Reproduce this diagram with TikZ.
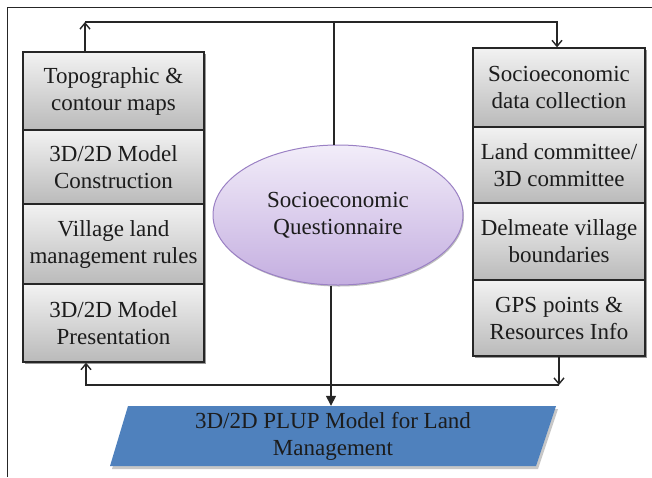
\documentclass[tikz,border=0pt]{standalone}
\usepackage{fontspec}
\setmainfont{Liberation Serif}
\newfontfamily\tnr{Liberation Serif}
\usetikzlibrary{arrows.meta,shadows,shapes.geometric}
\definecolor{boxtop}{HTML}{F2F2F2}
\definecolor{boxbot}{HTML}{BABABA}
\definecolor{ellTop}{HTML}{F2EDF9}
\definecolor{ellBot}{HTML}{C4AEE0}
\definecolor{ellLine}{HTML}{9A80C4}
\definecolor{plupBlue}{HTML}{4F81BD}
\definecolor{txt}{HTML}{1C1C1C}
\begin{document}
\begin{tikzpicture}[x=1pt,y=-1pt,
  every node/.style={font=\tnr\fontsize{23}{27}\selectfont, text=txt, align=center, inner sep=0pt},
  stepbox/.style={draw=black!85, line width=1.3pt, top color=boxtop, bottom color=boxbot,
    drop shadow={shadow xshift=1.5pt, shadow yshift=-1.5pt, opacity=0.4, fill=black}},
  leftbox/.style={stepbox, minimum width=181pt},
  rightbox/.style={stepbox, minimum width=172pt},
  loopline/.style={draw=black!85, line width=1.4pt},
  barb/.style={-{Straight Barb[length=6pt,width=10pt,line width=1.4pt]}},
  bigtip/.style={-{Triangle[length=10pt,width=10pt]}}]
\useasboundingbox (0,0) rectangle (652,477);
% outer frame
\draw[line width=1pt, black!85] (7,477) -- (7,7) -- (652,7);
% left column
\node[leftbox, minimum height=78pt] (L1) at (113.5,91) {Topographic \&\\contour maps};
\node[leftbox, minimum height=74pt] (L2) at (113.5,167) {3D/2D Model\\Construction};
\node[leftbox, minimum height=80pt] (L3) at (113.5,244) {Village land\\management rules};
\node[leftbox, minimum height=78pt] (L4) at (113.5,323) {3D/2D Model\\Presentation};
% right column
\node[rightbox, minimum height=79pt] (R1) at (559,87.5) {Socioeconomic\\data collection};
\node[rightbox, minimum height=76pt] (R2) at (559,165) {Land committee/\\3D committee};
\node[rightbox, minimum height=77pt] (R3) at (559,241.5) {Delmeate village\\boundaries};
\node[rightbox, minimum height=76pt] (R4) at (559,318) {GPS points \&\\Resources Info};
% centre ellipse
\node[ellipse, draw=ellLine, line width=1pt, top color=ellTop, bottom color=ellBot,
  minimum width=250pt, minimum height=140pt,
  drop shadow={shadow xshift=1pt, shadow yshift=-1.5pt, opacity=0.25, fill=black}] (Q) at (338,215) {Socioeconomic\\Questionnaire};
% output parallelogram
\fill[black!22] (130,409) -- (558,409) -- (538,469) -- (112,469) -- cycle;
\fill[plupBlue] (128,406) -- (556,406) -- (536,466) -- (110,466) -- cycle;
\node[minimum width=420pt, minimum height=60pt] (P) at (333,436) {3D/2D PLUP Model for Land\\Management};
% connectors
\coordinate (tl) at (85,22);
\coordinate (tr) at (557,22);
\coordinate (tm) at (334,22);
\coordinate (bl) at (86,385);
\coordinate (br) at (559,385);
\coordinate (bm) at (331,385);
\draw[loopline, barb] (tl |- L1.north) -- (tl);
\draw[loopline, barb] (tl) -- (tr) -- (tr |- R1.north);
\draw[loopline] (tm) -- (tm |- Q.north);
\draw[loopline, barb] (br |- R4.south) -- (br);
\draw[loopline, barb] (br) -- (bl) -- (bl |- L4.south);
\draw[loopline, bigtip] (bm |- Q.south) -- (bm |- P.north);
\end{tikzpicture}
\end{document}
